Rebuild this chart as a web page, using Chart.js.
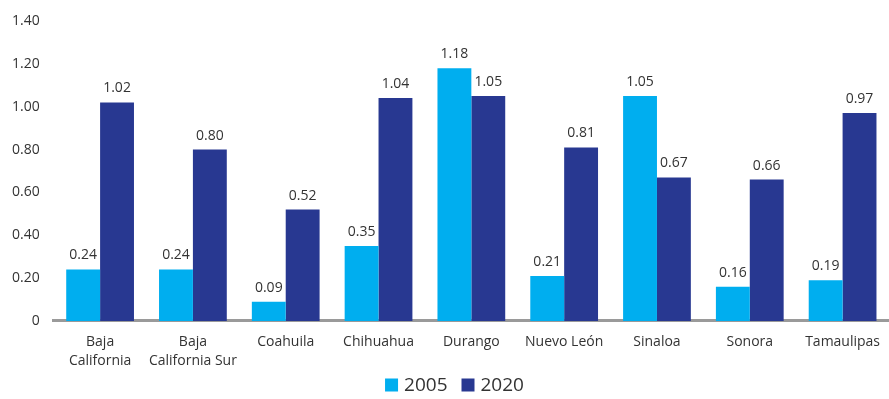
<!DOCTYPE html>
<html>
<head>
  <meta charset="utf-8" />
  <title>2005 vs 2020</title>
  <style>
    body { margin: 0; background: #fff; }
    #wrap { width: 889px; height: 399px; position: relative; }
  </style>
</head>
<body>
<div id="wrap"><canvas id="myChart"></canvas></div>

<script src="https://cdn.jsdelivr.net/npm/chart.js"></script>
<script>
  const states = [
    ['Baja', 'California'],
    ['Baja', 'California Sur'],
    'Coahuila',
    'Chihuahua',
    'Durango',
    'Nuevo León',
    'Sinaloa',
    'Sonora',
    'Tamaulipas'
  ];
  const values2005 = [0.24, 0.24, 0.09, 0.35, 1.18, 0.21, 1.05, 0.16, 0.19];
  const values2020 = [1.02, 0.80, 0.52, 1.04, 1.05, 0.81, 0.67, 0.66, 0.97];
  const seriesNames = ['2005', '2020'];
  const yTicks = [0, 0.2, 0.4, 0.6, 0.8, 1.0, 1.2, 1.4];

  const textColor = '#333333';
  const fontFamily = '"Open Sans", "Noto Sans", sans-serif';

  // write each bar's value just above it
  const valueLabels = {
    id: 'valueLabels',
    afterDatasetsDraw(chart) {
      const ctx = chart.ctx;
      ctx.save();
      ctx.font = '14px ' + fontFamily;
      ctx.fillStyle = textColor;
      ctx.textAlign = 'center';
      ctx.textBaseline = 'bottom';
      chart.data.datasets.forEach((ds, i) => {
        chart.getDatasetMeta(i).data.forEach((bar, j) => {
          ctx.fillText(ds.data[j].toFixed(2), bar.x, bar.y - 7);
        });
      });
      ctx.restore();
    }
  };

  // small legend row under the axis labels (built-in one spaces items too tightly)
  const bottomLegend = {
    id: 'bottomLegend',
    afterDraw(chart) {
      const ctx = chart.ctx;
      const box = 13, boxGap = 6, itemGap = 14;
      const y = chart.height - 14;
      ctx.save();
      ctx.font = '19px ' + fontFamily;
      ctx.textBaseline = 'middle';
      const items = chart.data.datasets.map(ds => ({
        text: ds.label,
        color: ds.backgroundColor,
        w: box + boxGap + ctx.measureText(ds.label).width
      }));
      const total = items.reduce((s, it) => s + it.w, 0) + itemGap * (items.length - 1);
      let x = chart.width / 2 + 10 - total / 2;
      items.forEach(it => {
        ctx.fillStyle = it.color;
        ctx.fillRect(x, y - box / 2, box, box);
        ctx.fillStyle = textColor;
        ctx.fillText(it.text, x + box + boxGap, y + 1);
        x += it.w + itemGap;
      });
      ctx.restore();
    }
  };

  new Chart(document.getElementById('myChart'), {
    type: 'bar',
    data: {
      labels: states,
      datasets: [
        { label: seriesNames[0], data: values2005, backgroundColor: '#00aeef' },
        { label: seriesNames[1], data: values2020, backgroundColor: '#283891' }
      ]
    },
    options: {
      responsive: true,
      maintainAspectRatio: false,
      animation: false,
      categoryPercentage: 0.73,
      barPercentage: 1.0,
      layout: { padding: { top: 21, left: 6, right: 0, bottom: 24 } },
      plugins: {
        legend: { display: false },
        tooltip: { enabled: false }
      },
      scales: {
        x: {
          grid: { display: false },
          border: { display: true, color: '#9a9a9a', width: 3 },
          ticks: {
            color: textColor,
            font: { size: 14, family: fontFamily, lineHeight: 1.36 },
            maxRotation: 0,
            autoSkip: false,
            padding: 4
          }
        },
        y: {
          min: 0,
          max: 1.4,
          grid: { display: false },
          border: { display: false },
          afterBuildTicks(scale) {
            scale.ticks = yTicks.map(v => ({ value: v }));
          },
          ticks: {
            color: textColor,
            font: { size: 14, family: fontFamily },
            padding: 6,
            callback: v => v === 0 ? '0' : v.toFixed(2)
          }
        }
      }
    },
    plugins: [valueLabels, bottomLegend]
  });
</script>
</body>
</html>
